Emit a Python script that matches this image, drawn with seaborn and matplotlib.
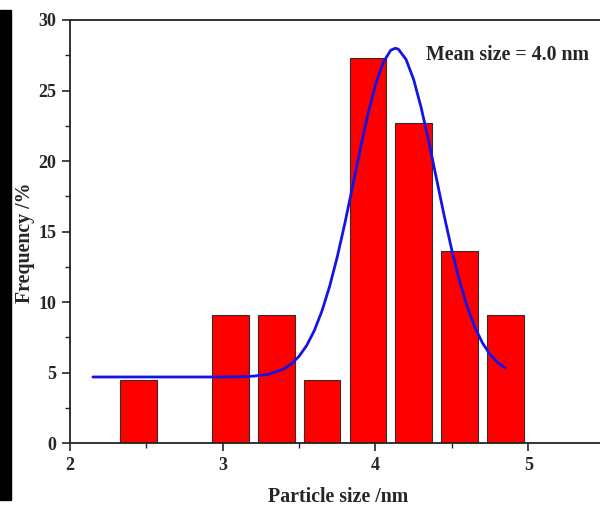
import matplotlib
matplotlib.use("Agg")
import matplotlib.pyplot as plt
from matplotlib.patches import Rectangle
from matplotlib.ticker import MultipleLocator
import seaborn as sns
import pandas as pd

# Histogram bins (centers, nm) and frequencies (%)
bin_centers = [2.45, 3.05, 3.35, 3.65, 3.95, 4.25, 4.55, 4.85]
frequencies = [4.5, 9.1, 9.1, 4.5, 27.3, 22.7, 13.6, 9.1]

# Fitted distribution curve
curve_x = [2.15, 2.5, 2.8, 3.0, 3.1, 3.2, 3.3, 3.4, 3.45, 3.5, 3.55, 3.6, 3.65, 3.7, 3.75,
           3.8, 3.85, 3.9, 3.95, 4.0, 4.05, 4.1, 4.13, 4.15, 4.2, 4.25, 4.3, 4.35, 4.4,
           4.45, 4.5, 4.55, 4.6, 4.65, 4.7, 4.75, 4.8, 4.85]
curve_y = [4.7, 4.7, 4.7, 4.7, 4.71, 4.76, 4.89, 5.27, 5.63, 6.17, 6.94, 8.0, 9.39, 11.13, 13.22,
           15.61, 18.2, 20.83, 23.29, 25.41, 26.98, 27.86, 28.0, 27.93, 27.21, 25.78, 23.75, 21.34, 18.72,
           16.12, 13.68, 11.52, 9.7, 8.24, 7.12, 6.3, 5.72, 5.33]

x_ticks = [2, 3, 4, 5]
y_ticks = [0, 5, 10, 15, 20, 25, 30]

sns.set_style("ticks")
plt.rcParams['font.family'] = ['Liberation Serif', 'DejaVu Serif']
plt.rcParams['font.weight'] = 'bold'

fig = plt.figure(figsize=(6.0, 5.09), dpi=100)
ax = fig.add_axes([70 / 600, 1 - 443.3 / 509, 1 - 70 / 600, (443.3 - 20) / 509])

bars = pd.DataFrame({"size": bin_centers, "freq": frequencies})
sns.barplot(data=bars, x="size", y="freq", native_scale=True, width=0.8,
            color="#ff0000", saturation=1, edgecolor="#3a2a2a", linewidth=0.8, ax=ax)

curve = pd.DataFrame({"x": curve_x, "y": curve_y})
sns.lineplot(data=curve, x="x", y="y", color="#1414e6", linewidth=2.0, sort=False, ax=ax)

ax.set_xlim(2, 5.47)
ax.set_ylim(0, 30)
ax.set_xticks(x_ticks)
ax.set_yticks(y_ticks)
ax.xaxis.set_minor_locator(MultipleLocator(0.5))
ax.yaxis.set_minor_locator(MultipleLocator(2.5))
ax.tick_params(which='major', direction='out', length=6, width=1.2, labelsize=13, pad=4)
ax.tick_params(which='minor', direction='out', length=3.5, width=1.0)
for lab in ax.get_xticklabels() + ax.get_yticklabels():
    lab.set_fontweight('bold')

for side in ['left', 'bottom', 'top']:
    ax.spines[side].set_linewidth(1.3)
    ax.spines[side].set_color('#222222')
ax.spines['right'].set_visible(False)

ax.set_xlabel("Particle size /nm", fontsize=14.3, fontweight='bold')
ax.set_ylabel("Frequency /%", fontsize=14.3, fontweight='bold')
ax.xaxis.label.set_va('center')
ax.yaxis.label.set_va('center')
ax.xaxis.set_label_coords((338 - 70) / 530, (443.3 - 497) / 423.3)
ax.yaxis.set_label_coords((25 - 70) / 530, (443.3 - 243) / 423.3)

ax.text(4.33, 27.5, "Mean size = 4.0 nm", fontsize=14.3, fontweight='bold',
        ha='left', va='center')

fig.patches.append(Rectangle((0, 9 / 509), 11 / 600, 490 / 509,
                             transform=fig.transFigure, color='black', zorder=0))

fig.savefig("out.png", dpi=100)
